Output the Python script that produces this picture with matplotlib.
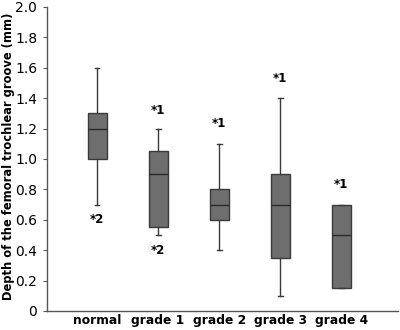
import matplotlib.pyplot as plt

groups = ["normal", "grade 1", "grade 2", "grade 3", "grade 4"]
whisker_lo = [0.70, 0.50, 0.40, 0.10, 0.15]
q1 = [1.00, 0.55, 0.60, 0.35, 0.15]
medians = [1.20, 0.90, 0.70, 0.70, 0.50]
q3 = [1.30, 1.05, 0.80, 0.90, 0.70]
whisker_hi = [1.60, 1.20, 1.10, 1.40, 0.70]

# significance markers: (group index, y value, text)
marks = [(0, 0.60, "*2"), (1, 1.32, "*1"), (1, 0.40, "*2"),
         (2, 1.23, "*1"), (3, 1.53, "*1"), (4, 0.83, "*1")]

yticks = [0, 0.2, 0.4, 0.6, 0.8, 1.0, 1.2, 1.4, 1.6, 1.8, 2.0]
ytick_labels = ["0", "0.2", "0.4", "0.6", "0.8", "1.0", "1.2", "1.4", "1.6", "1.8", "2.0"]

plt.rcParams['font.family'] = 'DejaVu Sans'

fig = plt.figure(figsize=(4, 3.3), dpi=100)
ax = fig.add_axes([0.1175, 0.0576, 0.8775, 0.9214])

stats = []
for i, g in enumerate(groups):
    stats.append({
        'label': g, 'med': medians[i], 'q1': q1[i], 'q3': q3[i],
        'whislo': whisker_lo[i], 'whishi': whisker_hi[i], 'fliers': [],
    })

pos = list(range(1, len(groups) + 1))
ax.bxp(stats, positions=pos, widths=0.31, patch_artist=True, showfliers=False,
       boxprops=dict(facecolor='#6e6e6e', edgecolor='#3a3a3a', linewidth=1.0),
       medianprops=dict(color='#2a2a2a', linewidth=1.0),
       whiskerprops=dict(color='#3a3a3a', linewidth=1.0),
       capprops=dict(color='#3a3a3a', linewidth=1.0),
       capwidths=0.08)

for gi, y, txt in marks:
    ax.text(pos[gi], y, txt, ha='center', va='center', fontsize=8.5, fontweight='bold')

ax.set_xlim(0.18, 5.93)
ax.set_ylim(0, 2.0)
ax.set_yticks(yticks)
ax.set_yticklabels(ytick_labels, fontsize=10)
ax.set_xticks(pos)
ax.set_xticklabels(groups, fontsize=8.8, fontweight='bold')
ax.tick_params(axis='x', length=0, pad=2.5)
ax.tick_params(axis='y', length=3, width=0.8, color='#555555', pad=4)

# y label placed in figure coords so it stays inside the canvas
fig.text(0.022, 0.527, "Depth of the femoral trochlear groove (mm)", rotation=90,
         ha='center', va='center', fontsize=8.3, fontweight='bold')

for s in ['top', 'right']:
    ax.spines[s].set_visible(False)
for s in ['left', 'bottom']:
    ax.spines[s].set_color('#555555')
    ax.spines[s].set_linewidth(1.0)

fig.savefig('out.png', dpi=100)
